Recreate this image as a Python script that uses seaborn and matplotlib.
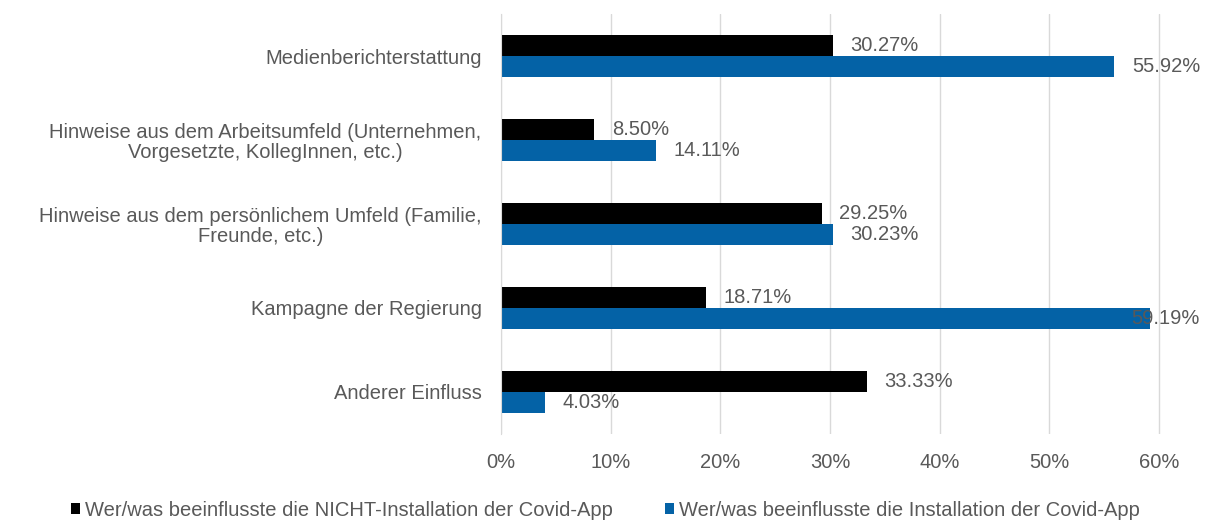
import pandas as pd
import seaborn as sns
import matplotlib.pyplot as plt

categories = [
    "Medienberichterstattung",
    "Hinweise aus dem Arbeitsumfeld (Unternehmen,\nVorgesetzte, KollegInnen, etc.)",
    "Hinweise aus dem persönlichem Umfeld (Familie,\nFreunde, etc.)",
    "Kampagne der Regierung",
    "Anderer Einfluss",
]
nicht_installiert = [0.3027, 0.0850, 0.2925, 0.1871, 0.3333]
installiert = [0.5592, 0.1411, 0.3023, 0.5919, 0.0403]
series_names = [
    "Wer/was beeinflusste die NICHT-Installation der Covid-App",
    "Wer/was beeinflusste die Installation der Covid-App",
]
xticks = [0, 0.1, 0.2, 0.3, 0.4, 0.5, 0.6]
xtick_labels = ["0%", "10%", "20%", "30%", "40%", "50%", "60%"]

df = pd.DataFrame({
    "Kategorie": categories * 2,
    "Anteil": nicht_installiert + installiert,
    "Serie": [series_names[0]] * 5 + [series_names[1]] * 5,
})

sns.set_style("white")
plt.rcParams['font.family'] = ['Liberation Sans', 'DejaVu Sans']
grey = "#595959"
fs = 14.5

fig = plt.figure(figsize=(12.11, 5.21), dpi=100)
ax = fig.add_axes([0.4137, 0.167, 0.991 - 0.4137, 0.9731 - 0.167])

sns.barplot(data=df, x="Anteil", y="Kategorie", hue="Serie", orient="h",
            palette=["#000000", "#0462A6"], width=0.5, linewidth=0,
            saturation=1, ax=ax)

ax.set_xlim(0, 0.6375)
ax.set_ylim(4.5, -0.5)
ax.set_xticks(xticks)
ax.set_xticklabels(xtick_labels)
ax.grid(axis="x", color="#d9d9d9", linewidth=1)
ax.set_axisbelow(True)
ax.set_xlabel("")
ax.set_ylabel("")
for s in ["top", "right", "bottom"]:
    ax.spines[s].set_visible(False)
ax.spines["left"].set_color("#d9d9d9")
ax.tick_params(axis="both", length=0, colors=grey, labelsize=fs)
ax.tick_params(axis="x", pad=14)
ax.tick_params(axis="y", pad=14)
for lbl in ax.get_yticklabels():
    lbl.set_multialignment("center")
    lbl.set_linespacing(1.05)

for cont in ax.containers:
    for bar in cont:
        v = bar.get_width()
        yc = bar.get_y() + bar.get_height() / 2
        if v > 0.58:
            ax.text(0.6375, yc, f"{v*100:.2f}%", ha="right", va="center",
                    color=grey, fontsize=fs)
        else:
            ax.text(v + 0.016, yc, f"{v*100:.2f}%", ha="left", va="center",
                    color=grey, fontsize=fs)

ax.legend_.remove()
handles, labels = ax.get_legend_handles_labels()
fig.legend(handles, labels, loc="lower center", bbox_to_anchor=(0.5, -0.032),
           ncol=2, frameon=False, fontsize=fs, labelcolor=grey,
           handlelength=0.45, handleheight=0.45, handletextpad=0.25,
           columnspacing=2.6)

fig.savefig("out.png", dpi=100)
